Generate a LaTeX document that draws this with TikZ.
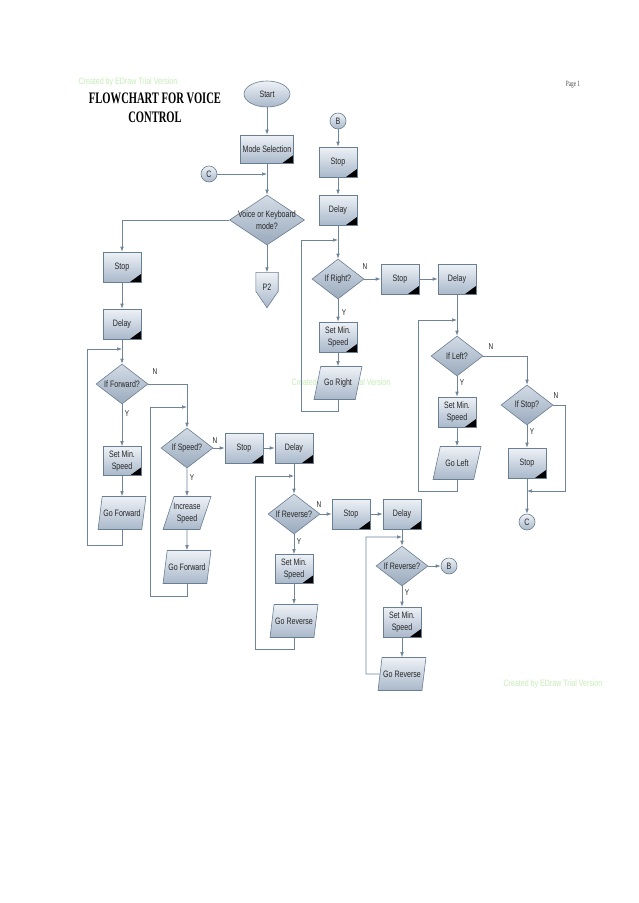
\documentclass[tikz,border=0pt]{standalone}
\usepackage{fontspec}
\setmainfont{Liberation Serif}
\newfontfamily\nar[FakeStretch=0.76]{Liberation Sans}
\newfontfamily\titfont[FakeStretch=0.66]{Liberation Serif}
\usetikzlibrary{shapes.geometric,arrows.meta,calc}
\definecolor{edge}{HTML}{6A7E92}
\definecolor{lnk}{HTML}{6F8497}
\definecolor{ftop}{HTML}{EEF2F7}
\definecolor{fbot}{HTML}{A9B8CA}
\definecolor{dtop}{HTML}{D3DCE6}
\definecolor{dbot}{HTML}{9AAABD}
\definecolor{wm}{HTML}{C6EDB8}
\definecolor{txt}{HTML}{262626}
\tikzset{
  shp/.style={draw=edge, line width=0.6pt, top color=ftop, bottom color=fbot},
  base/.style={shp, font=\nar\fontsize{9.3}{12}\selectfont, text=txt, align=center},
  proc/.style={base, rectangle, minimum width=38pt, minimum height=30pt, inner sep=1pt,
    path picture={\fill[black] (path picture bounding box.south east) -- ++(-11pt,0pt) -- ++(11pt,8pt) -- cycle;}},
  dec/.style={base, diamond, aspect=1.3, inner xsep=-5pt, inner ysep=-2pt,
    minimum width=52pt, minimum height=40pt, top color=dtop, bottom color=dbot},
  io/.style={base, trapezium, trapezium left angle=72, trapezium right angle=108,
    trapezium stretches=true, inner xsep=-5pt, inner ysep=1pt, minimum width=48pt, minimum height=33pt},
  conn/.style={base, circle, minimum size=16pt, inner sep=0pt},
  term/.style={base, ellipse, minimum width=46pt, minimum height=26pt, inner sep=0pt},
  arr/.style={draw=lnk, line width=0.7pt, -{Latex[length=5pt,width=3.6pt]}},
  lab/.style={font=\nar\fontsize{8.5}{9}\selectfont, text=txt, inner sep=0pt},
  wmk/.style={font=\nar\fontsize{9.3}{10}\selectfont, text=wm, inner sep=0pt},
}
\begin{document}
\begin{tikzpicture}[x=1pt,y=-1pt]
\fill[white] (0,0) rectangle (638,903);
\useasboundingbox (0,0) rectangle (638,903);

% titles and marks
\node[wmk] (wm1) at (128,82) {Created by EDraw Trial Version};
\node[wmk] (wm2) at (341,383) {Created by EDraw Trial Version};
\node[wmk] (wm3) at (553,684) {Created by EDraw Trial Version};
\node[font=\titfont\bfseries\fontsize{16}{19}\selectfont, anchor=base, inner sep=0pt] (title1) at (155,103) {FLOWCHART FOR VOICE};
\node[font=\titfont\bfseries\fontsize{16}{19}\selectfont, anchor=base, inner sep=0pt] (title2) at (155,122) {CONTROL};
\node[font=\titfont\fontsize{8}{9}\selectfont, text=black!70, inner sep=0pt] (page) at (573,85) {Page 1};

% top
\node[term] (start) at (267,94) {Start};
\node[proc, minimum width=53pt, minimum height=28pt] (mode) at (267,149) {Mode Selection};
\node[conn] (cL) at (209,174) {C};
\node[dec, aspect=1.5, inner xsep=-8pt, inner ysep=-5pt, minimum width=75pt, minimum height=50pt] (vk) at (267,220) {Voice or Keyboard\\mode?};
\node[minimum width=22pt, minimum height=35pt, inner sep=0pt] (p2) at (267,290) {};
\path[shp] (p2.north west) -- (p2.north east) -- ($(p2.north east)+(0,19)$) -- (p2.south) -- ($(p2.north west)+(0,19)$) -- cycle;
\node[font=\nar\fontsize{9.3}{12}\selectfont, text=txt, inner sep=0pt] (p2t) at (267,287) {P2};

% left column
\node[proc] (stop1) at (122,267) {Stop};
\node[proc] (delay1) at (122,324) {Delay};
\node[dec] (fwd) at (122,384) {If Forward?};
\node[proc, minimum height=29pt] (setF) at (122,461) {Set Min.\\Speed};
\node[io] (goF) at (122,513) {Go Forward};

% speed column
\node[dec] (spd) at (187,448) {If Speed?};
\node[io] (inc) at (187,513) {Increase\\Speed};
\node[io] (goF2) at (187,567) {Go Forward};
\node[proc] (stop2) at (244,448) {Stop};
\node[proc] (delay2) at (294,448) {Delay};

% reverse 1
\node[dec] (rev1) at (294,514) {If Reverse?};
\node[proc, minimum height=29pt] (setR1) at (294,569) {Set Min.\\Speed};
\node[io] (goR1) at (294,621) {Go Reverse};
\node[proc] (stop3) at (351,514) {Stop};
\node[proc] (delay3) at (402,514) {Delay};

% reverse 2
\node[dec] (rev2) at (402,566) {If Reverse?};
\node[conn] (bR) at (449,566) {B};
\node[proc] (setR2) at (402,622) {Set Min.\\Speed};
\node[io] (goR2) at (402,674) {Go Reverse};

% right part
\node[conn] (bT) at (338,121) {B};
\node[proc] (stopR) at (338,162) {Stop};
\node[proc] (delayR) at (338,210) {Delay};
\node[dec] (right) at (338,279) {If Right?};
\node[proc] (setRt) at (338,337) {Set Min.\\Speed};
\node[io] (goRt) at (338,383) {Go Right};
\node[proc] (stopR2) at (400,279) {Stop};
\node[proc] (delayR2) at (457,279) {Delay};
\node[dec] (left) at (457,356) {If Left?};
\node[proc] (setL) at (457,412) {Set Min.\\Speed};
\node[io] (goL) at (457,463) {Go Left};
\node[dec] (ifstop) at (527,405) {If Stop?};
\node[proc] (stopS) at (527,463) {Stop};
\node[conn] (cR) at (527,522) {C};

% loop corner coordinates
\coordinate (l1a) at (87,545);  \coordinate (l1b) at (87,349);  \coordinate (l1c) at (122,349);
\coordinate (l2a) at (150,596); \coordinate (l2b) at (150,407); \coordinate (l2c) at (187,407);
\coordinate (l3a) at (255,649); \coordinate (l3b) at (255,476); \coordinate (l3c) at (294,476);
\coordinate (l4a) at (366,674); \coordinate (l4b) at (366,537); \coordinate (l4c) at (402,537);
\coordinate (l5a) at (301,411); \coordinate (l5b) at (301,240); \coordinate (l5c) at (338,240);
\coordinate (l6a) at (418,491); \coordinate (l6b) at (418,320); \coordinate (l6c) at (457,320);
\coordinate (sN) at (565,491);  \coordinate (j2) at (527,491);

% connectors
\draw[arr] (start) -- (mode);
\draw[arr] (mode) -- (vk);
\draw[arr] (cL) -- (cL -| mode);
\draw[arr] (vk.west) -| (stop1.north);
\draw[arr] (vk.south) -- (p2.north);

\draw[arr] (stop1) -- (delay1);
\draw[arr] (delay1) -- (fwd.north);
\draw[arr] (fwd.south) -- (setF);
\draw[arr] (setF) -- (goF);
\draw[arr] (goF.south) |- (l1a) -- (l1b) -- (l1c);
\draw[arr] (fwd.east) -| (spd.north);

\draw[arr] (spd.south) -- (inc);
\draw[arr] (inc) -- (goF2);
\draw[arr] (goF2.south) |- (l2a) -- (l2b) -- (l2c);
\draw[arr] (spd.east) -- (stop2);
\draw[arr] (stop2) -- (delay2);
\draw[arr] (delay2) -- (rev1.north);

\draw[arr] (rev1.south) -- (setR1);
\draw[arr] (setR1) -- (goR1);
\draw[arr] (goR1.south) |- (l3a) -- (l3b) -- (l3c);
\draw[arr] (rev1.east) -- (stop3);
\draw[arr] (stop3) -- (delay3);
\draw[arr] (delay3) -- (rev2.north);

\draw[arr] (rev2.east) -- (bR);
\draw[arr] (rev2.south) -- (setR2);
\draw[arr] (setR2) -- (goR2);
\draw[arr] (goR2.west) -- (l4a) -- (l4b) -- (l4c);

\draw[arr] (bT) -- (stopR);
\draw[arr] (stopR) -- (delayR);
\draw[arr] (delayR) -- (right.north);
\draw[arr] (right.south) -- (setRt);
\draw[arr] (setRt) -- (goRt);
\draw[arr] (goRt.south) |- (l5a) -- (l5b) -- (l5c);
\draw[arr] (right.east) -- (stopR2);
\draw[arr] (stopR2) -- (delayR2);
\draw[arr] (delayR2) -- (left.north);

\draw[arr] (left.south) -- (setL);
\draw[arr] (setL) -- (goL);
\draw[arr] (goL.south) |- (l6a) -- (l6b) -- (l6c);
\draw[arr] (left.east) -| (ifstop.north);
\draw[arr] (ifstop.south) -- (stopS);
\draw[arr] (stopS) -- (cR);
\draw[arr] (ifstop.east) -| (sN) -- (j2);

% Y / N labels
\node[lab] (nF) at (155,372) {N};
\node[lab] (yF) at (127,414) {Y};
\node[lab] (nS) at (215,441) {N};
\node[lab] (yS) at (192,478) {Y};
\node[lab] (nR1) at (319,505) {N};
\node[lab] (yR1) at (299,542) {Y};
\node[lab] (yR2) at (407,593) {Y};
\node[lab] (nRt) at (365,267) {N};
\node[lab] (yRt) at (344,313) {Y};
\node[lab] (nL) at (491,347) {N};
\node[lab] (yL) at (462,383) {Y};
\node[lab] (nSt) at (556,396) {N};
\node[lab] (ySt) at (532,432) {Y};
\end{tikzpicture}
\end{document}
